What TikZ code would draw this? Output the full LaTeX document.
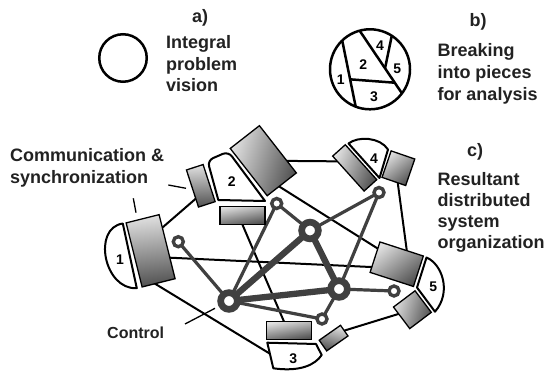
\documentclass[tikz,border=0pt]{standalone}
\usepackage{fontspec}
\setmainfont{Liberation Sans}
\usetikzlibrary{calc}
\pgfdeclarelayer{bg}
\pgfsetlayers{bg,main}
\definecolor{ctl}{RGB}{64,64,64}
\definecolor{txt}{RGB}{34,34,34}
\begin{document}
\begin{tikzpicture}[x=1pt,y=-1pt,
  grect/.style={draw=black, line width=1.3pt, top color=black!12, bottom color=black!68, shading angle=#1, inner sep=0pt, outer sep=0pt},
  piece/.style={draw=black, line width=2pt, fill=white, line join=round},
  plabel/.style={font=\fontsize{14}{14}\selectfont\bfseries, inner sep=0pt},
  comm/.style={draw=black, line width=2pt},
  ctlthin/.style={draw=ctl, line width=3.2pt},
  ctlthick/.style={draw=ctl, line width=6.3pt},
  bignode/.style={circle, draw=ctl, line width=6.7pt, fill=white, minimum size=16.7pt, inner sep=0pt},
  smallnode/.style={circle, draw=ctl, line width=3.4pt, fill=white, minimum size=10pt, inner sep=0pt},
  txtblock/.style={align=left, anchor=base west, inner sep=0pt, text=txt},
  hdr/.style={anchor=base, inner sep=0pt, text=txt, font=\fontsize{18}{18}\selectfont\bfseries},
  leader/.style={draw=black, line width=1.3pt},
  outline/.style={draw=black, line width=2.5pt}
]
\useasboundingbox (0,0) rectangle (548,371);

% ---------- a) ----------
\node[circle, outline, minimum size=47.5pt, inner sep=0pt] (ca) at (123,58) {};
\node[hdr] (ha) at (200,22.5) {a)};
% base anchor of a multi-line node = baseline of its last line
\node[txtblock, font=\fontsize{18}{21.6}\selectfont\bfseries] (ta) at (166,91.7) {Integral\\problem\\vision};

% ---------- b) ----------
\node[circle, outline, minimum size=80pt, inner sep=0pt, outer sep=0pt] (cb) at (370,69.3) {};
\draw[outline] (cb.134) -- (cb.249);
\draw[outline] (cb.105) -- (cb.-37);
\draw[outline] (cb.57) -- ($(cb.105)!0.6!(cb.-37)$);
\draw[outline] ($(cb.134)!0.587!(cb.249)$) -- ($(cb.105)!0.83!(cb.-37)$);
\node[plabel] (b1) at (340.7,80) {1};
\node[plabel] (b2) at (363.3,64.3) {2};
\node[plabel] (b3) at (374,96.7) {3};
\node[plabel] (b4) at (380,46) {4};
\node[plabel] (b5) at (397.3,68.3) {5};
\node[hdr] (hb) at (478,26.5) {b)};
\node[txtblock, font=\fontsize{18}{22}\selectfont\bfseries] (tb) at (437.3,100.7) {Breaking\\into pieces\\for analysis};

% ---------- c) ----------
\node[hdr] (hc) at (475,156.7) {c)};
\node[txtblock, font=\fontsize{18}{21.1}\selectfont\bfseries] (tc) at (437.3,248.3) {Resultant\\distributed\\system\\organization};
\node[txtblock, font=\fontsize{18}{21.6}\selectfont\bfseries] (tcomm) at (10,183.3) {Communication \&\\synchronization};
\node[txtblock, font=\fontsize{16}{16}\selectfont\bfseries] (tctl) at (107,338) {Control};

% communication / synchronization blocks
\node[grect=6,  minimum width=34pt,   minimum height=66pt,  rotate=14]  (R1)   at (150.6,250.8) {};
\node[grect=2,  minimum width=17.5pt, minimum height=39pt,  rotate=18]  (R2s)  at (200.8,185.8) {};
\node[grect=72, minimum width=60pt,   minimum height=37pt,  rotate=-52] (R2big) at (263.3,160.7) {};
\node[grect=10, minimum width=45pt,   minimum height=18pt]              (R2b)  at (242.5,215.2) {};
\node[grect=68, minimum width=47pt,   minimum height=17pt,  rotate=-48] (R4L)  at (354.7,167.9) {};
\node[grect=39, minimum width=25pt,   minimum height=28pt,  rotate=-19] (R4R)  at (398.4,168.2) {};
\node[grect=38, minimum width=45.6pt, minimum height=32pt,  rotate=-18] (R5)   at (396.7,264.2) {};
\node[grect=73, minimum width=27pt,   minimum height=27pt,  rotate=-53] (R5s)  at (412.4,309.7) {};
\node[grect=10, minimum width=45pt,   minimum height=17.6pt]            (R3a)  at (289.2,330.5) {};
\node[grect=-15,minimum width=26pt,   minimum height=13pt,  rotate=35]  (R3s)  at (333.6,338.1) {};

% pieces
\draw[piece] (122.8,223.5) .. controls (92,228) and (104,290) .. (136.8,288.2) -- cycle;
\draw[piece] (218.3,200) [rounded corners=6pt] -- (207.5,160.5) -- (228.3,151.5) [sharp corners] -- (265,201) -- cycle;
\draw[piece] (267.3,342.7) -- (316,344) -- (321.7,355) .. controls (315,365) and (300,372) .. (273.3,368.3) -- cycle;
\draw[piece] (348.5,143.5) .. controls (358,136) and (380,137) .. (388,149.5) -- (379.5,178) -- cycle;
\draw[piece] (426.5,257.5) .. controls (442,264) and (452,292) .. (435,311.7) -- (417,287.5) -- cycle;
\node[plabel] (n1) at (120,260) {1};
\node[plabel] (n2) at (231.7,181.7) {2};
\node[plabel] (n3) at (293.3,358.3) {3};
\node[plabel] (n4) at (374,158.3) {4};
\node[plabel] (n5) at (433.3,286.7) {5};
\coordinate (p3in) at (275,356.8);

% control nodes
\node[bignode] (A) at (229,301) {};
\node[bignode] (B) at (339,289) {};
\node[bignode] (C) at (310,230.5) {};
\node[smallnode] (s1) at (178.3,241.7) {};
\node[smallnode] (s2) at (276.7,203.5) {};
\node[smallnode] (s3) at (379,192.5) {};
\node[smallnode] (s4) at (394,291) {};
\node[smallnode] (s5) at (322,319) {};

% leaders
\coordinate (l1a) at (168.3,185);  \coordinate (l1b) at (186,188.3);
\coordinate (l2a) at (133.3,198.3); \coordinate (l2b) at (136,212.7);
\coordinate (l3a) at (185,324);    \coordinate (l3b) at (215,308.3);
\draw[leader] (l1a) -- (l1b);
\draw[leader] (l2a) -- (l2b);
\draw[leader] (l3a) -- (l3b);

\begin{pgfonlayer}{bg}
\fill[white] (0,0) rectangle (548,371);
% communication links
\draw[comm] ([shift={(0,-13)}]R1.center) -- ([shift={(0,8.5)}]R2s.center);
\draw[comm] ([shift={(0,6)}]R1.center) -- ([shift={(0,4)}]R5.center);
\draw[comm] ([shift={(-5.6,26.8)}]R1.center) -- (p3in);
\draw[comm] (R2big.center) -- ([shift={(0,-6.4)}]R4L.center);
\draw[comm] ([shift={(6.7,20)}]R2big.center) -- ([shift={(0,-3.7)}]R5.center);
\draw[comm] ([shift={(-2.6,0)}]R4R.center) -- ([shift={(11.9,0)}]R5.center);
\draw[comm] ([shift={(-4.1,0)}]R2b.center) -- ([shift={(-1.4,0)}]R3a.center);
\draw[comm] ([shift={(0,-4.2)}]R3s.center) -- (R5s.center);
% control links
\draw[ctlthin] (A.center) -- (s1.center);
\draw[ctlthin] (A.center) -- (s2.center);
\draw[ctlthin] (A.center) -- (s5.center);
\draw[ctlthin] (C.center) -- (s2.center);
\draw[ctlthin] (C.center) -- (s3.center);
\draw[ctlthin] (B.center) -- (s3.center);
\draw[ctlthin] (B.center) -- (s4.center);
\draw[ctlthin] (B.center) -- (s5.center);
\draw[ctlthick] (A.center) -- (C.center);
\draw[ctlthick] (A.center) -- (B.center);
\draw[ctlthick] (C.center) -- (B.center);
\end{pgfonlayer}
\end{tikzpicture}
\end{document}
